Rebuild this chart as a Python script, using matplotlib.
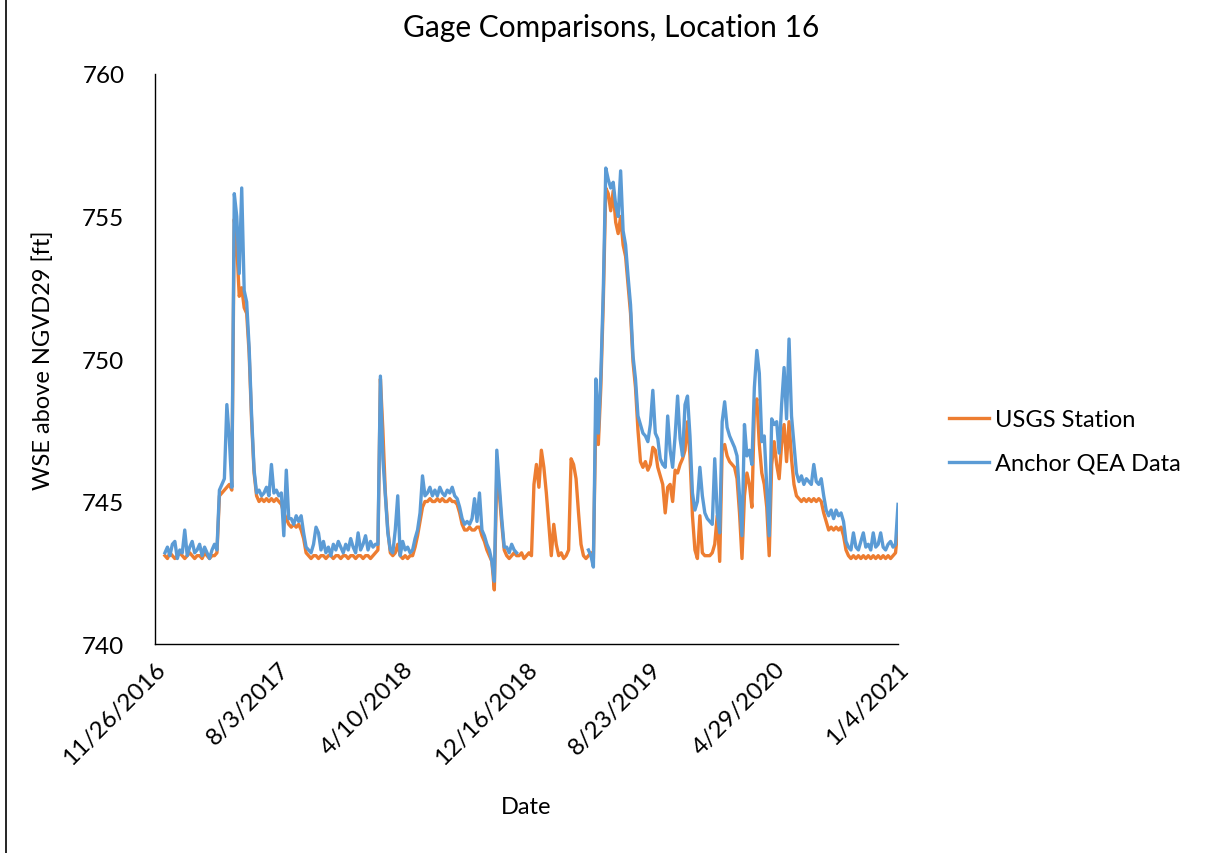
import numpy as np
import pandas as pd
import matplotlib
matplotlib.use("Agg")
import matplotlib.pyplot as plt
from matplotlib.lines import Line2D

plt.rcParams['font.family'] = ['Lato', 'DejaVu Sans']

# readings every 5 days starting 12/16/2016
start_date = '2016-12-16'
step = '5D'

usgs = [
    743.1, 743.0, 743.2, 743.1, 743.0, 743.1, 743.2, 743.1, 743.0, 743.1,
    743.2, 743.1, 743.0, 743.1, 743.1, 743.0, 743.2, 743.1, 743.0, 743.1,
    743.1, 743.2, 745.2, 745.3, 745.4, 745.5, 745.6, 745.4, 754.9, 754.0,
    752.2, 752.5, 751.8, 751.6, 750.2, 747.8, 746.0, 745.2, 745.0, 745.1,
    745.0, 745.1, 745.0, 745.1, 745.0, 745.1, 745.0, 744.9, 744.6, 744.4,
    744.2, 744.1, 744.2, 744.1, 744.2, 744.0, 743.7, 743.2, 743.1, 743.0,
    743.1, 743.1, 743.0, 743.1, 743.1, 743.0, 743.1, 743.1, 743.0, 743.1,
    743.1, 743.0, 743.1, 743.1, 743.0, 743.1, 743.1, 743.0, 743.1, 743.1,
    743.0, 743.1, 743.1, 743.0, 743.1, 743.2, 743.3, 749.3, 747.5, 745.3,
    744.0, 743.2, 743.1, 743.2, 743.5, 743.1, 743.0, 743.1, 743.0, 743.1,
    743.1, 743.4, 743.8, 744.3, 744.8, 745.0, 745.0, 745.1, 745.0, 745.0,
    745.1, 745.0, 745.1, 745.0, 745.0, 745.1, 745.0, 745.0, 744.9, 744.6,
    744.2, 744.0, 744.0, 744.1, 744.0, 744.0, 744.1, 744.1, 743.8, 743.6,
    743.3, 743.1, 742.9, 741.9, 746.0, 745.3, 744.2, 743.3, 743.1, 743.0,
    743.1, 743.2, 743.1, 743.1, 743.2, 743.0, 743.1, 743.2, 743.1, 745.6,
    746.3, 745.5, 746.8, 746.2, 745.3, 744.2, 743.1, 744.2, 743.5, 743.1,
    743.2, 743.0, 743.1, 743.3, 746.5, 746.3, 745.8, 744.6, 743.5, 743.1,
    743.0, 743.1, 743.2, 743.0, 748.0, 747.0, 749.0, 752.0, 756.0, 755.8,
    755.2, 755.9, 754.8, 754.4, 755.0, 754.0, 753.6, 752.6, 751.6, 749.9,
    749.0, 747.5, 746.4, 746.2, 746.4, 746.1, 746.3, 746.9, 746.8, 746.2,
    745.9, 745.6, 744.6, 745.5, 745.6, 745.0, 746.1, 746.0, 746.3, 746.5,
    746.8, 747.8, 746.6, 744.5, 743.3, 743.0, 744.5, 743.2, 743.1, 743.1,
    743.1, 743.2, 743.5, 744.5, 742.9, 746.8, 747.0, 746.6, 746.4, 746.3,
    746.2, 745.8, 744.6, 743.0, 745.2, 746.0, 745.6, 744.8, 748.2, 748.6,
    747.0, 746.0, 745.6, 744.8, 743.1, 746.3, 747.1, 746.3, 745.8, 747.0,
    747.7, 746.4, 747.8, 746.5, 745.6, 745.2, 745.1, 745.0, 745.1, 745.0,
    745.1, 745.0, 745.1, 745.0, 745.1, 745.0, 744.6, 744.3, 744.0, 744.1,
    744.0, 744.1, 744.0, 744.1, 743.8, 743.3, 743.1, 743.0, 743.1, 743.0,
    743.1, 743.0, 743.1, 743.0, 743.1, 743.0, 743.1, 743.0, 743.1, 743.0,
    743.1, 743.0, 743.1, 743.0, 743.1, 743.2, 744.1,
]

nan = np.nan
anchor = [
    743.2, 743.4, 743.1, 743.5, 743.6, 743.0, 743.3, 743.2, 744.0, 743.1,
    743.4, 743.6, 743.2, 743.3, 743.5, 743.1, 743.4, 743.2, 743.0, 743.3,
    743.5, 743.3, 745.4, 745.6, 745.8, 748.4, 747.2, 745.5, 755.8, 755.0,
    753.0, 756.0, 752.4, 752.0, 750.4, 748.0, 746.1, 745.3, 745.4, 745.2,
    745.3, 745.5, 745.2, 746.3, 745.3, 745.4, 745.2, 745.3, 743.8, 746.1,
    744.4, 744.4, 744.2, 744.5, 744.3, 744.5, 743.9, 743.4, 743.3, 743.2,
    743.5, 744.1, 743.9, 743.3, 743.6, 743.2, 743.4, 743.1, 743.5, 743.3,
    743.6, 743.4, 743.2, 743.5, 743.3, 743.7, 743.4, 743.2, 743.9, 743.3,
    743.5, 743.8, 743.3, 743.6, 743.4, 743.5, 743.5, 749.4, 746.5, 745.2,
    743.9, 743.3, 743.2, 744.0, 745.2, 743.1, 743.6, 743.3, 743.4, 743.2,
    743.3, 743.7, 744.0, 744.6, 745.9, 745.2, 745.3, 745.5, 745.2, 745.4,
    745.2, 745.5, 745.3, 745.2, 745.4, 745.3, 745.5, 745.2, 745.1, 744.8,
    744.4, 744.2, 744.3, 744.2, 744.4, 745.1, 744.3, 745.3, 744.0, 743.8,
    743.5, 743.3, 742.9, 742.2, 746.8, 745.6, 744.4, 743.4, 743.4, 743.2,
    743.5, 743.3, 743.2, nan, nan, nan, nan, nan, nan, nan,
    nan, nan, nan, nan, nan, nan, nan, nan, nan, nan,
    nan, nan, nan, nan, nan, nan, nan, nan, nan, nan,
    nan, 743.3, 743.1, 742.7, 749.3, 747.4, 749.4, 752.4, 756.7, 756.3,
    756.0, 756.2, 755.4, 755.0, 756.6, 754.5, 754.0, 752.9, 751.9, 750.1,
    749.3, 748.0, 747.7, 747.4, 747.3, 747.1, 747.7, 748.9, 747.4, 747.2,
    746.5, 746.3, 746.2, 748.0, 746.8, 746.2, 747.3, 748.7, 747.2, 746.6,
    748.4, 748.7, 747.3, 745.3, 744.7, 745.0, 746.2, 745.2, 744.6, 744.4,
    744.3, 744.2, 746.5, 744.6, 743.9, 747.8, 748.5, 747.6, 747.3, 747.1,
    746.9, 746.6, 745.2, 743.8, 747.7, 746.6, 746.8, 746.3, 749.0, 750.3,
    749.5, 747.1, 747.3, 745.5, 743.8, 747.9, 747.7, 747.8, 746.7, 748.4,
    749.7, 747.9, 750.7, 748.0, 747.0, 746.0, 745.7, 745.9, 745.6, 745.8,
    745.7, 745.6, 746.3, 745.7, 745.6, 745.8, 745.2, 744.7, 744.5, 744.7,
    744.4, 744.7, 744.5, 744.6, 744.3, 743.6, 743.4, 743.3, 743.9, 743.4,
    743.3, 743.6, 743.9, 743.4, 743.5, 743.3, 743.9, 743.4, 743.5, 743.9,
    743.4, 743.3, 743.5, 743.6, 743.4, 743.5, 744.9,
]

tick_labels = ['11/26/2016', '8/3/2017', '4/10/2018', '12/16/2018',
               '8/23/2019', '4/29/2020', '1/4/2021']

dates = pd.date_range(start_date, periods=len(usgs), freq=step)
tick_dates = pd.to_datetime(tick_labels, format='%m/%d/%Y')

fig = plt.figure(figsize=(12.15, 8.54), dpi=100)
ax = fig.add_axes([0.1276, 0.2447, 0.6115, 0.6675])

ax.plot(dates, usgs, color='#ED7D31', lw=2.4, label='USGS Station')
ax.plot(dates, anchor, color='#5B9BD5', lw=2.4, label='Anchor QEA Data')

ax.set_xlim(tick_dates[0], tick_dates[-1])
ax.set_ylim(740, 760)
ax.set_yticks([740, 745, 750, 755, 760])
ax.set_xticks(tick_dates)
ax.set_xticklabels(tick_labels, rotation=45, ha='right', rotation_mode='anchor')
ax.tick_params(axis='both', length=0, labelsize=17.5)
ax.tick_params(axis='y', pad=22)
ax.tick_params(axis='x', pad=10)

for s in ['top', 'right']:
    ax.spines[s].set_visible(False)
for s in ['left', 'bottom']:
    ax.spines[s].set_color('black')
    ax.spines[s].set_linewidth(1.0)

fig.text(0.503, 0.967, 'Gage Comparisons, Location 16', fontsize=21.5,
         ha='center', va='center')
ax.set_ylabel('WSE above NGVD29 [ft]', fontsize=17, labelpad=20)
ax.set_xlabel('Date', fontsize=17, labelpad=20)

ax.legend(loc='center left', bbox_to_anchor=(1.04, 0.355), frameon=False,
          fontsize=17, handlelength=1.7, handletextpad=0.25, labelspacing=0.95)

# chart border on the left edge
fig.add_artist(Line2D([0.005, 0.005], [0, 1], color='black', lw=1.2,
                      transform=fig.transFigure))

fig.savefig('out.png', dpi=100)
